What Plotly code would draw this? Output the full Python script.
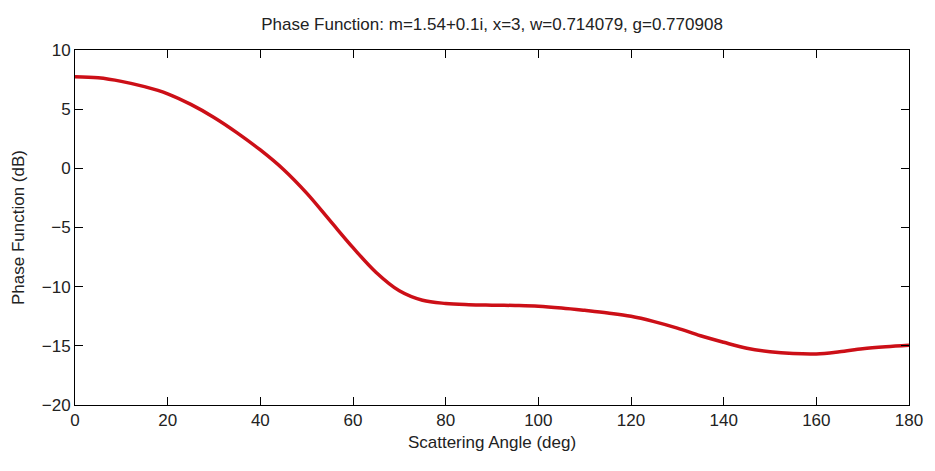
import plotly.graph_objects as go

angle_deg = [0, 5, 10, 15, 20, 25, 30, 35, 40, 45, 50, 55, 60, 65, 70, 75, 80, 85, 90,
             95, 100, 105, 110, 115, 120, 125, 130, 135, 140, 145, 150, 155, 160, 165,
             170, 175, 180]
phase_db = [7.75, 7.65, 7.35, 6.9, 6.3, 5.4, 4.3, 3.0, 1.55, -0.1, -2.1, -4.4, -6.7,
            -8.8, -10.35, -11.15, -11.42, -11.52, -11.56, -11.59, -11.65, -11.8, -12.0,
            -12.22, -12.5, -12.95, -13.5, -14.15, -14.7, -15.2, -15.5, -15.65, -15.68,
            -15.5, -15.25, -15.08, -14.95]

x_ticks = [0, 20, 40, 60, 80, 100, 120, 140, 160, 180]
y_ticks = [-20, -15, -10, -5, 0, 5, 10]

font_family = "Liberation Sans Narrow, Liberation Sans, Arial, sans-serif"
text_color = "#222"

fig = go.Figure()
fig.add_trace(go.Scatter(x=angle_deg, y=phase_db, mode="lines",
                         line=dict(color="#cc0f17", width=3.5, shape="spline", smoothing=1.0)))

axis_common = dict(showgrid=False, zeroline=False, showline=True, linecolor="black",
                   linewidth=1, mirror="ticks", ticks="inside", ticklen=8,
                   tickcolor="black", tickfont=dict(family=font_family, size=17, color=text_color))

fig.update_layout(
    width=935, height=471,
    margin=dict(l=75, r=21, t=50, b=66),
    paper_bgcolor="white", plot_bgcolor="white",
    showlegend=False,
    title=dict(text="Phase Function: m=1.54+0.1i, x=3, w=0.714079, g=0.770908",
               x=0.5, xanchor="center", xref="paper", y=0.95, yanchor="middle",
               font=dict(family=font_family, size=17, color=text_color)),
    xaxis=dict(range=[0, 180], tickvals=x_ticks,
               title=dict(text="Scattering Angle (deg)", standoff=6,
                          font=dict(family=font_family, size=17, color=text_color)),
               **axis_common),
    yaxis=dict(range=[-20, 10], tickvals=y_ticks,
               title=dict(text="Phase Function (dB)", standoff=12,
                          font=dict(family=font_family, size=17, color=text_color)),
               **axis_common),
)

fig.write_html("out.html")
